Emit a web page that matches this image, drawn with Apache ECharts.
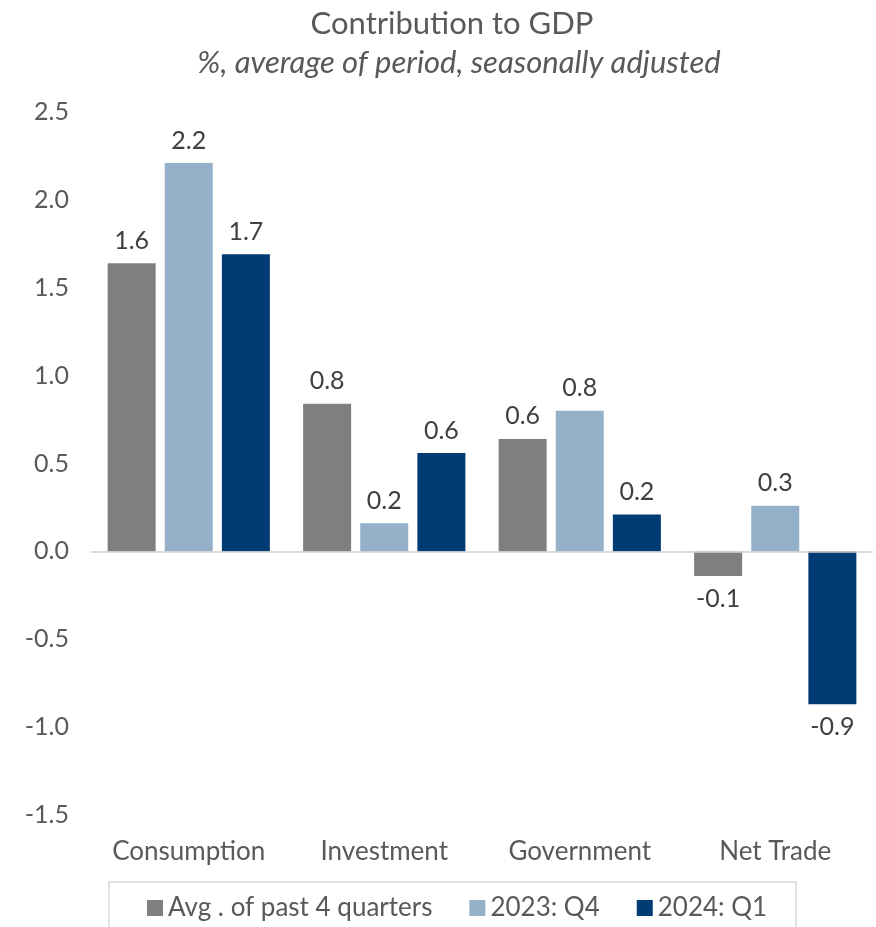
<!DOCTYPE html>
<html><head><meta charset="utf-8">
<script src="https://cdn.jsdelivr.net/npm/echarts@6/dist/echarts.min.js"></script>
<style>html,body{margin:0;padding:0;background:#fff}#c{width:876px;height:927px}</style>
</head><body><div id="c"></div>
<script>
const categories = ["Consumption", "Investment", "Government", "Net Trade"];
const seriesNames = ["Avg . of past 4 quarters", "2023: Q4", "2024: Q1"];
const avgPast4 = [1.64, 0.84, 0.64, -0.14];
const q4_2023 = [2.21, 0.16, 0.80, 0.26];
const q1_2024 = [1.69, 0.56, 0.21, -0.87];
const colors = ["#7f7f7f", "#95b0c9", "#003b73"];
const yTicks = [-1.5, -1.0, -0.5, 0.0, 0.5, 1.0, 1.5, 2.0, 2.5];

const font = "Lato, 'Noto Sans', sans-serif";
function mk(name, vals, color) {
  return {
    name, type: 'bar', barWidth: 48, barGap: '19%',
    itemStyle: { color },
    data: vals.map(v => ({
      value: v,
      label: { show: true, position: v < 0 ? 'bottom' : 'top', distance: 10,
        formatter: p => p.value.toFixed(1), color: '#404040', fontSize: 25, fontFamily: font }
    }))
  };
}
const chart = echarts.init(document.getElementById('c'));
chart.setOption({
  animation: false,
  textStyle: { fontFamily: font },
  title: [
    { text: 'Contribution to GDP', left: 447, top: 3, textAlign: 'center',
      textStyle: { fontSize: 31, fontWeight: 'normal', color: '#595959', fontFamily: font } },
    { text: '%, average of period, seasonally adjusted', left: 454, top: 42, textAlign: 'center',
      textStyle: { fontSize: 31, fontWeight: 'normal', fontStyle: 'italic', color: '#595959', fontFamily: font } }
  ],
  grid: { left: 91, right: 3, top: 112, bottom: 112, containLabel: false },
  legend: {
    left: 109, top: 882, itemWidth: 16, itemHeight: 16, itemGap: 37,
    padding: [13, 29, 20, 38], borderColor: '#d9d9d9', borderWidth: 1.5,
    icon: 'rect',
    textStyle: { fontSize: 26, color: '#595959', fontFamily: font },
    data: seriesNames
  },
  xAxis: {
    type: 'category', data: categories,
    axisLine: { show: false }, axisTick: { show: false },
    axisLabel: { interval: 0, hideOverlap: false, fontSize: 26, color: '#595959', margin: 24, fontFamily: font }
  },
  yAxis: {
    type: 'value', min: -1.5, max: 2.5, interval: 0.5,
    splitLine: { show: false },
    axisLine: { show: false },
    axisLabel: { fontSize: 25, color: '#595959', margin: 22, fontFamily: font,
      formatter: v => v.toFixed(1) }
  },
  series: [
    mk(seriesNames[0], avgPast4, colors[0]),
    mk(seriesNames[1], q4_2023, colors[1]),
    Object.assign(mk(seriesNames[2], q1_2024, colors[2]), {
      markLine: { silent: true, symbol: 'none', label: { show: false },
        lineStyle: { color: '#d0d0d0', width: 1.5, type: 'solid' }, data: [{ yAxis: 0 }] }
    })
  ]
});
</script></body></html>
